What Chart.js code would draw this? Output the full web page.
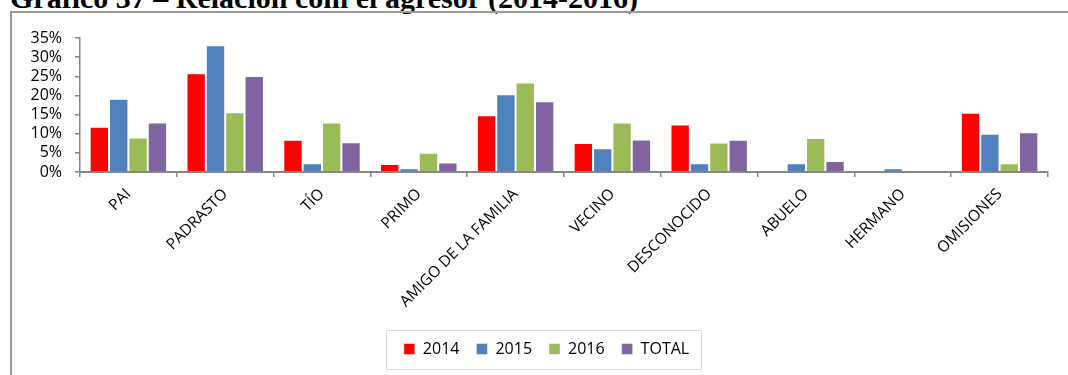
<!DOCTYPE html>
<html>
<head>
<meta charset="utf-8">
<script src="https://cdn.jsdelivr.net/npm/chart.js@4"></script>
<style>
body{margin:0;width:1068px;height:375px;overflow:hidden;background:#fff;position:relative}
#titulo{position:absolute;left:10px;top:-19px;font:bold 30px "Liberation Serif";white-space:nowrap;color:#000}
#marco{position:absolute;left:10px;top:11px;width:1100px;height:400px;border-left:2px solid #9a9a9a;border-top:2px solid #9a9a9a}
#grafico{position:absolute;left:0;top:0}
</style>
</head>
<body>
<div id="titulo">Gráfico 37 – Relación com el agresor (2014-2016)</div>
<div id="marco"></div>
<canvas id="grafico" width="1068" height="375"></canvas>
<script>
//datos del grafico (porcentajes)
var categorias = ['PAI', 'PADRASTO', 'TÍO', 'PRIMO', 'AMIGO DE LA FAMILIA', 'VECINO', 'DESCONOCIDO', 'ABUELO', 'HERMANO', 'OMISIONES'];
var valores2014 = [11.8, 25.8, 8.4, 2.1, 14.8, 7.6, 12.4, 0, 0, 15.5];
var valores2015 = [19.1, 33.1, 2.3, 1.0, 20.3, 6.2, 2.3, 2.3, 1.0, 10.0];
var valores2016 = [9.0, 15.6, 12.9, 5.0, 23.4, 12.9, 7.7, 8.9, 0, 2.3];
var valoresTotal = [12.9, 25.1, 7.8, 2.5, 18.5, 8.5, 8.4, 2.9, 0.2, 10.4];

var GRIS = '#868686';
Chart.defaults.font.family = 'Open Sans';
Chart.defaults.color = '#000';

// leyenda un poco a la derecha y con recuadro
const cajaLeyenda = {
    id: 'cajaLeyenda',
    afterLayout(chart) {
        chart.legend.left += 12.5;
        chart.legend.right += 12.5;
    },
    afterDraw(chart) {
        const cajas = chart.legend.legendHitBoxes;
        if (!cajas || !cajas.length) return;
        const ult = cajas[cajas.length - 1];
        const x1 = cajas[0].left - 18;
        const x2 = ult.left + ult.width + 12;
        const yc = cajas[0].top + cajas[0].height / 2;
        const c = chart.ctx;
        c.save();
        c.strokeStyle = '#d9d9d9';
        c.lineWidth = 1;
        c.strokeRect(Math.round(x1) + 0.5, Math.round(yc - 19.5) + 0.5, Math.round(x2 - x1), 39);
        c.restore();
    }
};

function serie(nombre, datos, color) {
    return {
        label: nombre,
        data: datos,
        backgroundColor: color,
        borderColor: 'rgba(255,255,255,0.45)',
        borderWidth: 1
    };
}

const ctx = document.getElementById('grafico').getContext('2d');
const grafico = new Chart(ctx, {
    type: 'bar',
    data: {
        labels: categorias,
        datasets: [
            serie('2014', valores2014, '#FF0000'),
            serie('2015', valores2015, '#4F81BD'),
            serie('2016', valores2016, '#9BBB59'),
            serie('TOTAL', valoresTotal, '#8064A2')
        ]
    },
    options: {
        responsive: false,
        animation: false,
        layout: {padding: {left: 20, right: 20, top: 38, bottom: 8}},
        datasets: {bar: {categoryPercentage: 0.8, barPercentage: 1.0}},
        plugins: {
            tooltip: {enabled: false},
            legend: {
                position: 'bottom',
                labels: {boxWidth: 11, boxHeight: 11, padding: 17, font: {size: 16}}
            }
        },
        scales: {
            x: {
                grid: {display: true, drawOnChartArea: false, drawTicks: true, tickLength: 5, color: GRIS, lineWidth: 1.5},
                border: {color: GRIS, width: 2},
                ticks: {autoSkip: false, maxRotation: 45, minRotation: 45, padding: 8, font: {size: 15.5}},
                afterFit: function(scale) { scale.height = 152; }
            },
            y: {
                min: 0,
                max: 35,
                grid: {display: true, drawOnChartArea: false, drawTicks: true, tickLength: 5, color: GRIS, lineWidth: 1.5},
                border: {color: GRIS, width: 1.5},
                ticks: {stepSize: 5, autoSkip: false, padding: 13, font: {size: 16}, callback: function(v) { return v + '%'; }},
                afterFit: function(scale) { scale.width = 60; }
            }
        }
    },
    plugins: [cajaLeyenda]
});
</script>
</body>
</html>
